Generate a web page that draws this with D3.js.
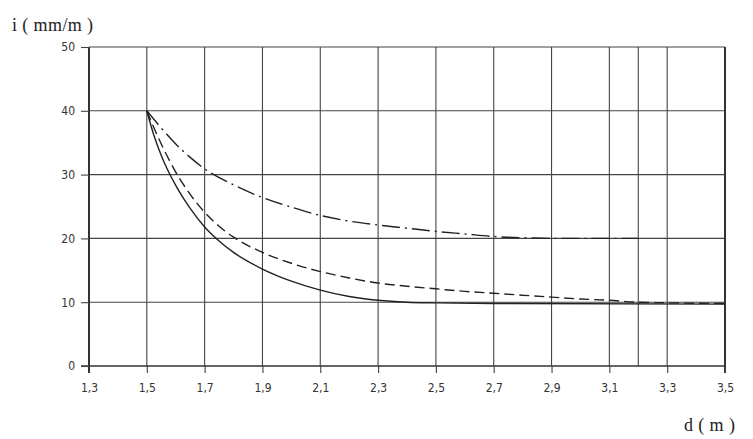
<!DOCTYPE html>
<html>
<head>
<meta charset="utf-8">
<script src="https://cdn.jsdelivr.net/npm/d3@7"></script>
<style>
  body { margin: 0; background: #fff; }
  svg text { fill: #333; }
  .tick text { font-family: "DejaVu Sans Condensed", "DejaVu Sans", sans-serif; font-stretch: condensed; font-size: 12px; }
  .title { font-family: "Liberation Serif", "DejaVu Serif", serif; font-size: 18px; letter-spacing: 0.4px; fill: #222; }
</style>
</head>
<body>
<div id="chart"></div>
<script>
// Tick values
var xTicks = [1.3, 1.5, 1.7, 1.9, 2.1, 2.3, 2.5, 2.7, 2.9, 3.1, 3.3, 3.5];
var xGrid = [1.5, 1.7, 1.9, 2.1, 2.3, 2.5, 2.7, 2.9, 3.1, 3.2, 3.3];
var yTicks = [0, 10, 20, 30, 40, 50];

// Solid curve
var dSolid = [1.5, 1.52, 1.55, 1.6, 1.65, 1.7, 1.75, 1.8, 1.9, 2.0, 2.1, 2.2, 2.3, 2.4, 2.5, 2.7, 3.5];
var iSolid = [40, 36.8, 33.0, 28.3, 24.7, 21.8, 19.6, 17.8, 15.2, 13.3, 11.9, 10.9, 10.3, 10.0, 9.9, 9.8, 9.7];

// Dashed curve
var dDashed = [1.5, 1.52, 1.55, 1.6, 1.65, 1.7, 1.75, 1.8, 1.9, 2.0, 2.1, 2.2, 2.3, 2.4, 2.5, 2.6, 2.7, 2.8, 2.9, 3.0, 3.1, 3.2, 3.5];
var iDashed = [40, 37.8, 34.8, 30.4, 26.9, 24.1, 21.9, 20.2, 17.8, 16.1, 14.8, 13.8, 13.0, 12.5, 12.1, 11.7, 11.4, 11.1, 10.8, 10.5, 10.3, 10.0, 9.8];

// Dash-dot curve
var dDashDot = [1.5, 1.55, 1.6, 1.65, 1.7, 1.8, 1.9, 2.0, 2.1, 2.2, 2.3, 2.4, 2.5, 2.6, 2.7, 2.8, 2.9, 3.2];
var iDashDot = [40, 37.3, 34.8, 32.7, 30.9, 28.4, 26.4, 24.9, 23.6, 22.7, 22.1, 21.6, 21.1, 20.7, 20.3, 20.1, 20.0, 20.0];

var W = 753, H = 439;
var svg = d3.select('#chart').append('svg')
    .attr('width', W)
    .attr('height', H);

var x = d3.scaleLinear().domain([1.3, 3.5]).range([89, 725]);
var y = d3.scaleLinear().domain([0, 50]).range([366, 47]);

// Grid lines
svg.append('g').selectAll('line.h').data(yTicks.slice(1)).join('line')
    .attr('x1', x(1.3)).attr('x2', x(3.5))
    .attr('y1', d => y(d)).attr('y2', d => y(d))
    .attr('stroke', '#444').attr('stroke-width', 1.1);
svg.append('g').selectAll('line.v').data(xGrid).join('line')
    .attr('x1', d => x(d)).attr('x2', d => x(d))
    .attr('y1', y(50)).attr('y2', y(0))
    .attr('stroke', '#444').attr('stroke-width', 1.1);

// Right border
svg.append('line')
    .attr('x1', x(3.5)).attr('x2', x(3.5))
    .attr('y1', y(50)).attr('y2', y(0) + 7)
    .attr('stroke', '#333').attr('stroke-width', 2);

// Axes
var xAxis = svg.append('g')
    .attr('transform', 'translate(0,' + y(0) + ')')
    .call(d3.axisBottom(x).tickValues(xTicks).tickSize(7).tickPadding(10)
      .tickFormat(d => d3.format('.1f')(d).replace('.', ',')));
xAxis.select('.domain').attr('stroke', '#333').attr('stroke-width', 1.6)
    .attr('d', 'M' + (x(1.3) - 8) + ',0H' + x(3.5));
xAxis.selectAll('.tick line').attr('stroke', '#444').attr('stroke-width', 1.1);

var yAxis = svg.append('g')
    .attr('transform', 'translate(' + x(1.3) + ',0)')
    .call(d3.axisLeft(y).tickValues(yTicks).tickSize(8).tickPadding(6));
yAxis.select('.domain').attr('stroke', '#333').attr('stroke-width', 2)
    .attr('d', 'M0,' + y(50) + 'V' + (y(0) + 7));
yAxis.selectAll('.tick line').attr('stroke', '#444').attr('stroke-width', 1.1);
svg.selectAll('.tick text').attr('fill', '#444');

// Curves
var line = d3.line()
    .x(d => x(d[0]))
    .y(d => y(d[1]))
    .curve(d3.curveMonotoneX);

function draw(ds, is, dash) {
  svg.append('path')
      .datum(d3.zip(ds, is))
      .attr('d', line)
      .attr('fill', 'none')
      .attr('stroke', '#222')
      .attr('stroke-width', 1.4)
      .attr('stroke-dasharray', dash);
}
draw(dSolid, iSolid, null);
draw(dDashed, iDashed, '10,5');
draw(dDashDot, iDashDot, '18,5,2,5');

// Axis titles
svg.append('text').attr('class', 'title')
    .attr('x', 12).attr('y', 31)
    .text('i ( mm/m )');
svg.append('text').attr('class', 'title')
    .attr('x', 684).attr('y', 431)
    .text('d ( m )');
</script>
</body>
</html>
